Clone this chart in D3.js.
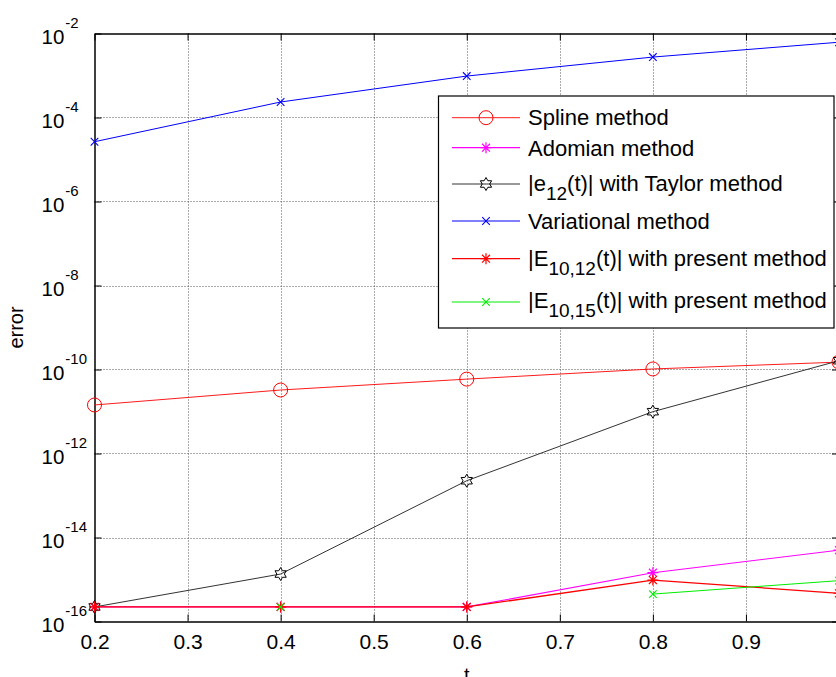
<!DOCTYPE html>
<html>
<head>
<meta charset="utf-8">
<script src="https://cdn.jsdelivr.net/npm/d3@7"></script>
<style>
  html, body { margin: 0; padding: 0; background: #fff; }
  svg { display: block; font-family: "Liberation Sans", Arial, Helvetica, sans-serif; }
</style>
</head>
<body>
<svg id="chart" width="836" height="677"></svg>
<script>
// ---------------- data ----------------
const tValues = [0.2, 0.4, 0.6, 0.8, 1.0];
const splineErr = [1.43e-11, 3.25e-11, 5.9e-11, 1.03e-10, 1.5e-10];
const adomianErr = [2.22e-16, 2.22e-16, 2.22e-16, 1.45e-15, 5.0e-15];
const taylorErr = [2.22e-16, 1.35e-15, 2.25e-13, 9.9e-12, 1.62e-10];
const variationalErr = [2.65e-5, 2.34e-4, 9.7e-4, 2.75e-3, 6.2e-3];
const presentE12Err = [2.22e-16, 2.22e-16, 2.22e-16, 9.7e-16, 4.7e-16];
const presentE15Err = [null, 2.22e-16, null, 4.5e-16, 9.4e-16];

const seriesNames = [
  "Spline method",
  "Adomian method",
  "|e_{12}(t)| with Taylor method",
  "Variational method",
  "|E_{10,12}(t)| with present method",
  "|E_{10,15}(t)| with present method"
];
const xTicks = [0.2, 0.3, 0.4, 0.5, 0.6, 0.7, 0.8, 0.9, 1.0];
const xTickLabels = ["0.2", "0.3", "0.4", "0.5", "0.6", "0.7", "0.8", "0.9", ""];
const yTickExponents = [-16, -14, -12, -10, -8, -6, -4, -2];
const xLabel = "t";
const yLabel = "error";

// ---------------- styles / layout ----------------
const seriesStyle = [
  { color: "#ff0000", marker: "circle", width: 0.9 },
  { color: "#ff00ff", marker: "asterisk", width: 1.2 },
  { color: "#333333", marker: "hexagram", width: 1 },
  { color: "#0000ff", marker: "x", width: 1 },
  { color: "#ff0000", marker: "asterisk", width: 1.3 },
  { color: "#00ee00", marker: "x", width: 1 }
];
const seriesData = [splineErr, adomianErr, taylorErr, variationalErr, presentE12Err, presentE15Err];

const plot = { left: 94.5, right: 839, top: 33.5, bottom: 621.5 };
const svg = d3.select("#chart");

const x = d3.scaleLinear().domain([0.2, 1.0]).range([plot.left, plot.right]);
const y = d3.scaleLog().domain([1e-16, 1e-2]).range([plot.bottom, plot.top]);
const yTicks = yTickExponents.map(e => Math.pow(10, e));

// ---------------- grid ----------------
const grid = svg.append("g").attr("class", "grid")
  .attr("stroke", "#555").attr("stroke-width", 1).attr("stroke-dasharray", "1,2");
grid.selectAll("line.v").data(xTicks.slice(1, -1)).join("line")
  .attr("x1", d => Math.round(x(d)) + 0.5).attr("x2", d => Math.round(x(d)) + 0.5)
  .attr("y1", plot.top).attr("y2", plot.bottom);
grid.selectAll("line.h").data(yTicks.slice(1, -1)).join("line")
  .attr("y1", d => Math.round(y(d)) + 0.5).attr("y2", d => Math.round(y(d)) + 0.5)
  .attr("x1", plot.left).attr("x2", plot.right);

// ---------------- axes ----------------
const tickLen = 7;
const fmtX = d => xTickLabels[xTicks.findIndex(v => Math.abs(v - d) < 1e-9)];

const gBottom = svg.append("g").attr("transform", `translate(0,${plot.bottom})`)
  .call(d3.axisBottom(x).tickValues(xTicks).tickFormat(fmtX).tickSizeInner(-tickLen).tickSizeOuter(0));
const gTop = svg.append("g").attr("transform", `translate(0,${plot.top})`)
  .call(d3.axisTop(x).tickValues(xTicks).tickFormat("").tickSizeInner(-tickLen).tickSizeOuter(0));
const gLeft = svg.append("g").attr("transform", `translate(${plot.left},0)`)
  .call(d3.axisLeft(y).tickValues(yTicks).tickFormat("").tickSizeInner(-tickLen).tickSizeOuter(0));
const gRight = svg.append("g").attr("transform", `translate(${plot.right},0)`)
  .call(d3.axisRight(y).tickValues(yTicks).tickFormat("").tickSizeInner(-tickLen).tickSizeOuter(0));

[gBottom, gTop, gLeft, gRight].forEach(g => {
  g.select(".domain").attr("stroke", "#000").attr("stroke-width", 1.5);
  g.selectAll(".tick line").attr("stroke", "#000").attr("stroke-width", 1);
});
gBottom.selectAll(".tick text")
  .attr("y", 27).attr("dy", null)
  .attr("font-size", 21).attr("fill", "#000")
  .attr("font-family", "Liberation Sans, Arial, sans-serif");

// y tick labels with superscripts ("10" left-aligned, exponent after it)
gLeft.selectAll(".tick text").remove();
gLeft.selectAll(".tick").each(function (d) {
  const e = Math.round(Math.log10(d));
  const t = d3.select(this).append("text")
    .attr("x", -53).attr("y", 0)
    .attr("text-anchor", "start").attr("fill", "#000")
    .attr("font-family", "Liberation Sans, Arial, sans-serif");
  t.append("tspan").attr("dy", 9.5).attr("font-size", 20.5).text("10");
  t.append("tspan").attr("dy", -16).attr("dx", 1).attr("font-size", 15).text(String(e));
});

// axis labels
svg.append("text").attr("x", (plot.left + plot.right) / 2).attr("y", 682)
  .attr("text-anchor", "middle").attr("font-size", 20).text(xLabel);
svg.append("text")
  .attr("transform", `translate(23.3,${(plot.top + plot.bottom) / 2}) rotate(-90)`)
  .attr("text-anchor", "middle").attr("font-size", 20).text(yLabel);

// ---------------- markers ----------------
function drawMarker(g, type, cx, cy, color) {
  if (type === "circle") {
    g.append("circle").attr("cx", cx).attr("cy", cy).attr("r", 7)
      .attr("fill", "none").attr("stroke", color).attr("stroke-width", 1);
  } else if (type === "asterisk") {
    const r = 5.5, q = r * 0.72;
    const p = `M${cx - r},${cy}L${cx + r},${cy}M${cx},${cy - r}L${cx},${cy + r}` +
      `M${cx - q},${cy - q}L${cx + q},${cy + q}M${cx - q},${cy + q}L${cx + q},${cy - q}`;
    g.append("path").attr("d", p).attr("fill", "none").attr("stroke", color).attr("stroke-width", 1.2);
  } else if (type === "x") {
    const r = 3.8;
    const p = `M${cx - r},${cy - r}L${cx + r},${cy + r}M${cx - r},${cy + r}L${cx + r},${cy - r}`;
    g.append("path").attr("d", p).attr("fill", "none").attr("stroke", color).attr("stroke-width", 1.1);
  } else if (type === "hexagram") {
    const R = 6.5, ri = R / Math.sqrt(3);
    const pts = [];
    for (let i = 0; i < 12; i++) {
      const a = -Math.PI / 2 + i * Math.PI / 6;
      const rr = i % 2 === 0 ? R : ri;
      pts.push([cx + rr * Math.cos(a), cy + rr * Math.sin(a)]);
    }
    g.append("path").attr("d", "M" + pts.map(p => p.join(",")).join("L") + "Z")
      .attr("fill", "none").attr("stroke", "#000").attr("stroke-width", 1);
  }
}

// ---------------- series ----------------
const plotArea = svg.append("g");
const line = d3.line()
  .defined(d => d.v != null && d.v > 0)
  .x(d => x(d.t)).y(d => y(d.v));

seriesData.forEach((vals, i) => {
  const st = seriesStyle[i];
  const pts = tValues.map((t, j) => ({ t, v: vals[j] }));
  const g = plotArea.append("g");
  g.append("path").datum(pts).attr("d", line)
    .attr("fill", "none").attr("stroke", st.color).attr("stroke-width", st.width);
  pts.filter(p => p.v != null && p.v > 0).forEach(p => drawMarker(g, st.marker, x(p.t), y(p.v), st.color));
});

// ---------------- legend ----------------
const legendBox = { x: 438.5, y: 96, w: 395.5, h: 232 };
const legendLineY = [117.7, 147.7, 184, 221, 258.7, 302];
const legendTextY = [125, 156, 191, 229, 266, 308];
const subShift = 9;
const leg = svg.append("g");
leg.append("rect").attr("x", legendBox.x).attr("y", legendBox.y)
  .attr("width", legendBox.w).attr("height", legendBox.h)
  .attr("fill", "#fff").attr("stroke", "#000").attr("stroke-width", 1.2);

seriesNames.forEach((name, i) => {
  const st = seriesStyle[i];
  const ly = legendLineY[i];
  leg.append("line").attr("x1", 452).attr("x2", 520).attr("y1", ly).attr("y2", ly)
    .attr("stroke", st.color).attr("stroke-width", st.width);
  drawMarker(leg, st.marker, 486, ly, st.color);
  const txt = leg.append("text").attr("x", 528).attr("y", legendTextY[i]).attr("font-size", 22).attr("fill", "#000");
  const parts = name.split(/(_\{[^}]*\})/).filter(p => p);
  let shifted = false;
  parts.forEach(part => {
    const m = part.match(/^_\{([^}]*)\}$/);
    if (m) {
      txt.append("tspan").attr("dy", subShift).attr("font-size", 19).text(m[1]);
      shifted = true;
    } else {
      const ts = txt.append("tspan").text(part);
      if (shifted) { ts.attr("dy", -subShift); shifted = false; }
    }
  });
});
</script>
</body>
</html>
